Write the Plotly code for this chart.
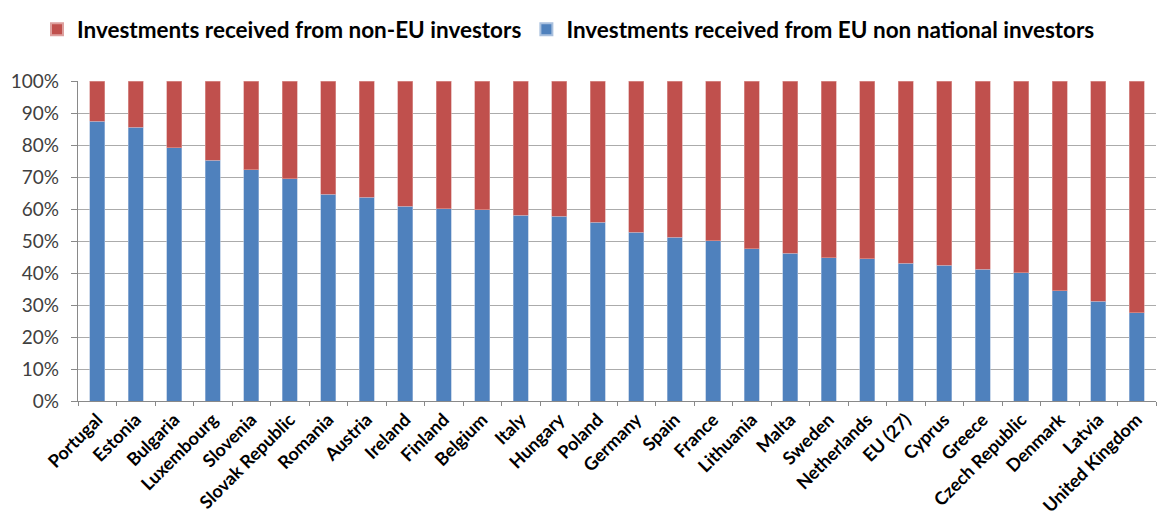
import plotly.graph_objects as go

countries = ["Portugal", "Estonia", "Bulgaria", "Luxembourg", "Slovenia", "Slovak Republic",
             "Romania", "Austria", "Ireland", "Finland", "Belgium", "Italy", "Hungary", "Poland",
             "Germany", "Spain", "France", "Lithuania", "Malta", "Sweden", "Netherlands",
             "EU (27)", "Cyprus", "Greece", "Czech Republic", "Denmark", "Latvia", "United Kingdom"]
eu_share = [87.5, 85.6, 79.1, 75.2, 72.3, 69.4, 64.6, 63.7, 60.8, 60.1, 59.8, 58.1, 57.8, 55.9,
            52.7, 51.1, 50.1, 47.6, 46.2, 44.7, 44.4, 43.1, 42.4, 41.1, 40.1, 34.4, 31.2, 27.6]
non_eu_share = [round(100 - v, 1) for v in eu_share]
y_ticks = list(range(0, 101, 10))
y_tick_labels = [f"{v}%" for v in y_ticks]

FONT = "Lato"

fig = go.Figure()
fig.add_trace(go.Bar(
    x=countries, y=eu_share, name="Investments received from EU non national investors",
    marker=dict(color="#4F81BD", line=dict(color="#A9C0DE", width=0.6)), width=0.4,
))
fig.add_trace(go.Bar(
    x=countries, y=non_eu_share, name="Investments received from non-EU investors",
    marker=dict(color="#C0504D", line=dict(color="#DDA09E", width=0.6)), width=0.4,
))

fig.update_layout(
    barmode="stack",
    width=1160, height=522,
    margin=dict(l=70, r=12, t=73, b=129, autoexpand=False),
    paper_bgcolor="white", plot_bgcolor="white",
    font=dict(family=FONT, color="#000000"),
    legend=dict(
        orientation="h", traceorder="reversed",
        x=0.025, xanchor="left", y=1.0, yanchor="top",
        xref="container", yref="container",
        font=dict(family=FONT, size=22.5, color="#000000", weight="bold"),
        itemwidth=30, itemsizing="constant",
        bgcolor="rgba(0,0,0,0)", tracegroupgap=0,
    ),
    bargap=0.6,
)
fig.update_yaxes(
    range=[0, 100], tickvals=y_ticks, ticktext=y_tick_labels,
    showgrid=True, gridcolor="#ABABAB", gridwidth=1.3,
    showline=True, linecolor="#898989", linewidth=1.3,
    ticks="outside", ticklen=6, tickcolor="#898989",
    tickfont=dict(family=FONT, size=19, color="#404040"),
    ticklabelstandoff=8,
    zeroline=False, automargin=False,
)
fig.update_xaxes(
    tickangle=-45, tickson="boundaries",
    showline=True, linecolor="#898989", linewidth=1.3,
    ticks="outside", ticklen=4, tickcolor="#898989",
    tickfont=dict(family=FONT, size=18, color="#000000", weight="bold"),
    showgrid=False, automargin=False,
)

fig.write_html("out.html")
